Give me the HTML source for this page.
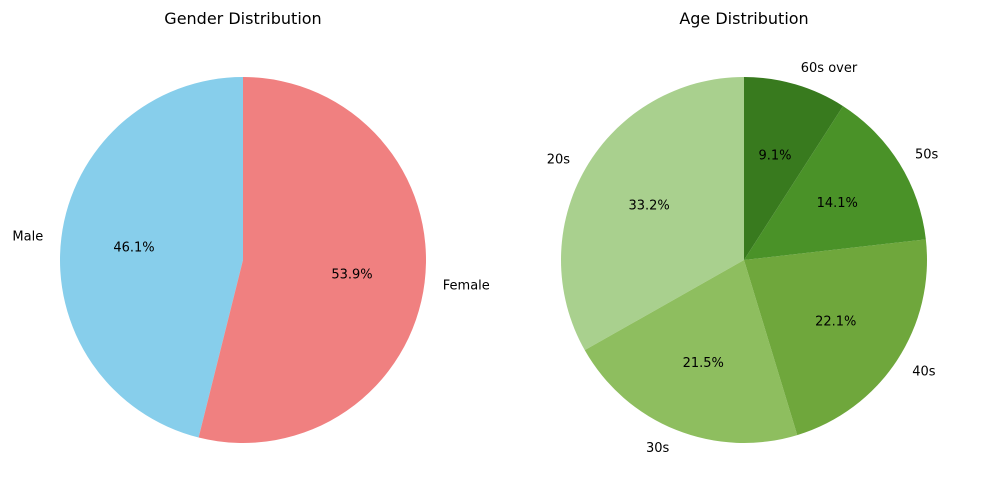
<!DOCTYPE html>
<html><head><meta charset="utf-8"><style>
body{margin:0;background:#fff;font-family:"DejaVu Sans","Liberation Sans",sans-serif}
svg{display:block}
</style></head><body>
<svg id="c" width="983" height="500">
<text x="243" y="24" font-size="16" text-anchor="middle">Gender Distribution</text>
<text x="744" y="24" font-size="16" text-anchor="middle">Age Distribution</text>
</svg>
<script>
const genderLabels=["Male","Female"];
const genderValues=[46.1,53.9];
const genderColors=["#87ceeb","#f08080"];
const ageLabels=["20s","30s","40s","50s","60s over"];
const ageValues=[33.2,21.5,22.1,14.1,9.1];
const ageColors=["#a9d08e","#8ebe5f","#6fa73c","#4a9228","#387a1e"];
const svg=document.getElementById('c');
const NS='http://www.w3.org/2000/svg';
function pie(cx,cy,r,labels,values,colors,name){
  const total=values.reduce((a,b)=>a+b,0);
  let a=90;
  values.forEach((v,i)=>{
    const span=v/total*360, a2=a+span, rad=x=>x*Math.PI/180;
    const x1=cx+r*Math.cos(rad(a)),y1=cy-r*Math.sin(rad(a));
    const x2=cx+r*Math.cos(rad(a2)),y2=cy-r*Math.sin(rad(a2));
    const p=document.createElementNS(NS,'path');
    p.setAttribute('d',`M${cx},${cy}L${x1},${y1}A${r},${r} 0 ${span>180?1:0} 0 ${x2},${y2}Z`);
    p.setAttribute('fill',colors[i]);
    
    
    svg.appendChild(p);
    const m=rad(a+span/2);
    const lx=cx+1.1*r*Math.cos(m),ly=cy-1.1*r*Math.sin(m);
    const t=document.createElementNS(NS,'text');
    t.setAttribute('x',lx);t.setAttribute('y',ly+5);t.setAttribute('font-size','13');
    t.setAttribute('text-anchor',Math.cos(m)<0?'end':'start');
    t.textContent=labels[i];
    
    
    svg.appendChild(t);
    const px=cx+0.6*r*Math.cos(m),py=cy-0.6*r*Math.sin(m);
    const q=document.createElementNS(NS,'text');
    q.setAttribute('x',px);q.setAttribute('y',py+5);q.setAttribute('font-size','13');
    q.setAttribute('text-anchor','middle');
    q.textContent=v.toFixed(1)+'%';
    
    
    svg.appendChild(q);
    a=a2;
  });
}
pie(243,260,183,genderLabels,genderValues,genderColors,'gender');
pie(744,260,183,ageLabels,ageValues,ageColors,'age');
</script>
</body></html>
